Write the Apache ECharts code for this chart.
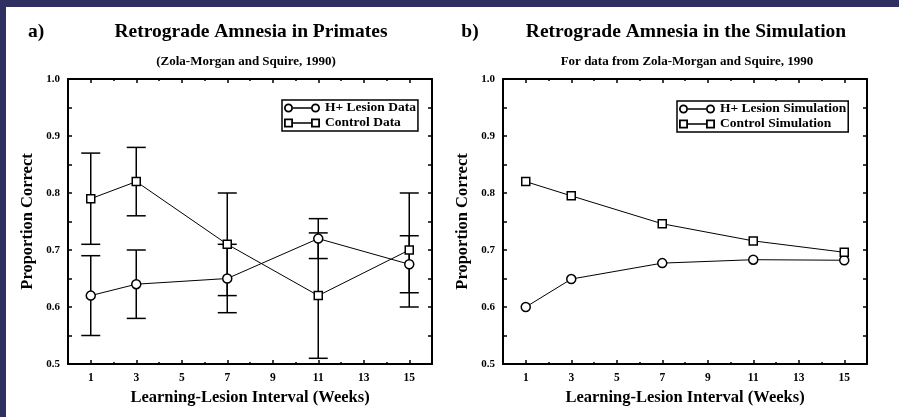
<!DOCTYPE html>
<html><head><meta charset="utf-8">
<script src="https://cdn.jsdelivr.net/npm/echarts@6/dist/echarts.min.js"></script>
<style>html,body{margin:0;padding:0;background:#fff}#c{width:899px;height:417px}</style>
</head><body><div id="c"></div>
<script>
// ---- data ----
const weeks = [1, 3, 7, 11, 15];
const xTickLabels = [1, 3, 5, 7, 9, 11, 13, 15];
const yTickLabels = [0.5, 0.6, 0.7, 0.8, 0.9, 1.0];

const lesionData     = [0.62, 0.64, 0.65, 0.72, 0.675];
const lesionErrLow   = [0.55, 0.58, 0.59, 0.685, 0.625];
const lesionErrHigh  = [0.69, 0.70, 0.71, 0.755, 0.725];
const controlData    = [0.79, 0.82, 0.71, 0.62, 0.70];
const controlErrLow  = [0.71, 0.76, 0.62, 0.51, 0.60];
const controlErrHigh = [0.87, 0.88, 0.80, 0.73, 0.80];

const simLesionData  = [0.60, 0.649, 0.677, 0.683, 0.682];
const simControlData = [0.82, 0.795, 0.746, 0.716, 0.696];

const seriesNames = ['H+ Lesion Data', 'Control Data', 'H+ Lesion Simulation', 'Control Simulation'];

// ---- styling ----
const FF = '"Liberation Serif", "Times New Roman", serif';
const BLACK = '#000';
const FRAME = '#302f62';

const sqIcon = 'path://M0,0H10V10H0Z M2,2V8H8V2Z M10,4.3H30V5.7H10Z M30,0H40V10H30Z M32,2V8H38V2Z';
const circIcon = 'path://M0,5A5,5 0 1,1 10,5A5,5 0 1,1 0,5Z M2,5A3,3 0 1,0 8,5A3,3 0 1,0 2,5Z M10,4.3H30V5.7H10Z M30,5A5,5 0 1,1 40,5A5,5 0 1,1 30,5Z M32,5A3,3 0 1,0 38,5A3,3 0 1,0 32,5Z';

function xAxes(g) {
  const base = {
    type: 'value', gridIndex: g, min: 0, max: 16, interval: 2,
    axisLine: {show: true, onZero: false, lineStyle: {color: BLACK, width: 2}},
    axisTick: {show: true, inside: true, length: 2, lineStyle: {color: BLACK, width: 1.5}},
    minorTick: {show: true, splitNumber: 2, length: 4, lineStyle: {color: BLACK, width: 1.5}},
    splitLine: {show: false}, minorSplitLine: {show: false}
  };
  return [
    Object.assign({}, base, {
      position: 'bottom',
      axisLabel: {customValues: xTickLabels, margin: 8, color: BLACK, fontFamily: FF, fontWeight: 'bold', fontSize: 11.5},
      name: 'Learning-Lesion Interval (Weeks)', nameLocation: 'middle', nameGap: 21,
      nameTextStyle: {color: BLACK, fontFamily: FF, fontWeight: 'bold', fontSize: 16.5}
    }),
    Object.assign({}, base, {position: 'top', axisLabel: {show: false}})
  ];
}
function yAxes(g) {
  const base = {
    type: 'value', gridIndex: g, min: 0.5, max: 1.0, interval: 0.1,
    axisLine: {show: true, onZero: false, lineStyle: {color: BLACK, width: 2}},
    axisTick: {show: true, inside: true, length: 4, lineStyle: {color: BLACK, width: 1.5}},
    minorTick: {show: true, splitNumber: 2, length: 4, lineStyle: {color: BLACK, width: 1.5}},
    splitLine: {show: false}, minorSplitLine: {show: false}
  };
  return [
    Object.assign({}, base, {
      position: 'left',
      axisLabel: {customValues: yTickLabels, formatter: v => v.toFixed(1), margin: 8, color: BLACK, fontFamily: FF, fontWeight: 'bold', fontSize: 11},
      name: 'Proportion Correct', nameLocation: 'middle', nameGap: 32, nameRotate: 90,
      nameTextStyle: {color: BLACK, fontFamily: FF, fontWeight: 'bold', fontSize: 16.5}
    }),
    Object.assign({}, base, {position: 'right', axisLabel: {show: false}})
  ];
}

function lineSeries(name, vals, symbol, size, g) {
  return {
    type: 'line', name, xAxisIndex: g * 2, yAxisIndex: g * 2,
    data: weeks.map((w, i) => [w, vals[i]]),
    symbol, symbolSize: size, showSymbol: true,
    itemStyle: {color: '#fff', borderColor: BLACK, borderWidth: 1.5},
    lineStyle: {color: BLACK, width: 1}, z: 3, animation: false
  };
}
function errSeries(lo, hi, g) {
  return {
    type: 'custom', xAxisIndex: g * 2, yAxisIndex: g * 2, z: 1, silent: true, animation: false,
    data: weeks.map((w, i) => [w, lo[i], hi[i]]),
    encode: {x: 0, y: [1, 2]},
    renderItem: (params, api) => {
      const xv = api.value(0);
      const p1 = api.coord([xv, api.value(1)]);
      const p2 = api.coord([xv, api.value(2)]);
      const hw = 9.5;
      const style = {stroke: BLACK, lineWidth: 1.5, fill: null};
      return {type: 'group', children: [
        {type: 'line', shape: {x1: p1[0], y1: p1[1], x2: p2[0], y2: p2[1]}, style},
        {type: 'line', shape: {x1: p1[0] - hw, y1: p1[1], x2: p1[0] + hw, y2: p1[1]}, style},
        {type: 'line', shape: {x1: p2[0] - hw, y1: p2[1], x2: p2[0] + hw, y2: p2[1]}, style}
      ]};
    }
  };
}
function legendCfg(names, left, top) {
  return {
    orient: 'vertical', left, top, selectedMode: false,
    data: [{name: names[0], icon: circIcon}, {name: names[1], icon: sqIcon}],
    itemWidth: 36, itemHeight: 10, itemGap: 1,
    padding: [1, 2, 1, 2], borderColor: BLACK, borderWidth: 1.5,
    itemStyle: {color: BLACK, borderWidth: 0},
    textStyle: {color: BLACK, fontFamily: FF, fontWeight: 'bold', fontSize: 13.5}
  };
}
function txt(x, y, text, size) {
  return {type: 'text', x, y, style: {text, fill: BLACK, font: 'bold ' + size + 'px ' + FF, align: 'center', verticalAlign: 'middle'}};
}

const chart = echarts.init(document.getElementById('c'), null, {renderer: 'canvas'});
chart.setOption({
  animation: false,
  backgroundColor: '#fff',
  grid: [
    {left: 68, top: 79, width: 364, height: 285},
    {left: 503, top: 79, width: 364, height: 285}
  ],
  xAxis: xAxes(0).concat(xAxes(1)),
  yAxis: yAxes(0).concat(yAxes(1)),
  legend: [
    legendCfg([seriesNames[0], seriesNames[1]], 282, 100),
    legendCfg([seriesNames[2], seriesNames[3]], 677, 101)
  ],
  series: [
    errSeries(lesionErrLow, lesionErrHigh, 0),
    errSeries(controlErrLow, controlErrHigh, 0),
    lineSeries(seriesNames[0], lesionData, 'circle', 9, 0),
    lineSeries(seriesNames[1], controlData, 'rect', 8, 0),
    lineSeries(seriesNames[2], simLesionData, 'circle', 9, 1),
    lineSeries(seriesNames[3], simControlData, 'rect', 8, 1)
  ],
  graphic: [
    {type: 'rect', shape: {x: 0, y: 0, width: 899, height: 7}, style: {fill: FRAME}},
    {type: 'rect', shape: {x: 0, y: 0, width: 6, height: 417}, style: {fill: FRAME}},
    txt(36, 32, 'a)', 19.5),
    txt(251, 32, 'Retrograde Amnesia in Primates', 19.5),
    txt(246, 62, '(Zola-Morgan and Squire, 1990)', 13),
    txt(470, 32, 'b)', 19.5),
    txt(686, 32, 'Retrograde Amnesia in the Simulation', 19.5),
    txt(687, 62, 'For data from Zola-Morgan and Squire, 1990', 13)
  ]
});
</script></body></html>
